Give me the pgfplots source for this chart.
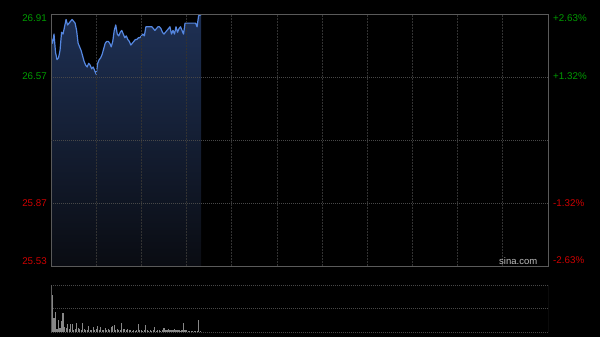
\documentclass[border=0pt]{standalone}
\usepackage{pgfplots}
\pgfplotsset{compat=1.18}
\usepackage{pgfplotstable}
\usepackage{fontspec}
\setmainfont{Liberation Sans}
\definecolor{upg}{RGB}{0,155,0}
\definecolor{dnr}{RGB}{205,0,0}
\definecolor{frm}{RGB}{90,90,90}
\definecolor{grd}{RGB}{50,50,50}
\definecolor{hgrd}{RGB}{72,72,72}
\definecolor{mgrd}{RGB}{110,110,110}
\definecolor{pline}{RGB}{85,135,225}
\definecolor{ftop}{RGB}{30,48,84}
\definecolor{fbot}{RGB}{10,12,18}
\definecolor{vbar}{RGB}{135,135,135}
\definecolor{sina}{RGB}{190,190,190}
\newcommand\lab[2]{\raisebox{#1}[0pt][0pt]{#2}}
\pgfplotstableread{
m p
0 26.78
1 26.75
2 26.80
3 26.70
4 26.66
5 26.67
6 26.71
7 26.81
8 26.80
9 26.84
10 26.88
11 26.85
12 26.86
13 26.87
14 26.88
15 26.87
16 26.86
17 26.82
18 26.75
19 26.73
20 26.71
21 26.68
22 26.65
23 26.63
24 26.62
25 26.64
26 26.63
27 26.61
28 26.62
29 26.60
30 26.58
31 26.64
32 26.66
33 26.67
34 26.69
35 26.72
36 26.75
37 26.76
38 26.76
39 26.75
40 26.73
41 26.76
42 26.82
43 26.85
44 26.80
45 26.79
46 26.81
47 26.82
48 26.80
49 26.78
50 26.79
51 26.77
52 26.76
53 26.74
54 26.75
55 26.76
56 26.77
57 26.77
58 26.78
59 26.78
60 26.79
61 26.80
62 26.79
63 26.84
64 26.84
65 26.84
66 26.84
67 26.84
68 26.83
69 26.82
70 26.83
71 26.84
72 26.84
73 26.83
74 26.81
75 26.80
76 26.81
77 26.82
78 26.83
79 26.84
80 26.80
81 26.82
82 26.80
83 26.84
84 26.81
85 26.83
86 26.84
87 26.82
88 26.80
89 26.86
90 26.86
91 26.86
92 26.86
93 26.86
94 26.86
95 26.86
96 26.86
97 26.84
98 26.90
99 26.905
99.6 26.905
}\price
\pgfplotstableread{
m v
0 47
1 37
2 14
3 20
4 3
5 12
6 4
7 11
8 19
9 5
10 4
11 8
12 3
13 8
14 8
15 2
16 3
17 9
18 4
19 3
20 2
21 9
22 3
23 2
24 2
25 6
26 2
27 2
28 5
29 2
30 3
31 6
32 2
33 5
34 2
35 2
36 4
37 2
38 3
39 2
40 5
41 6
42 7
43 2
44 3
45 2
46 2
47 9
48 3
49 3
50 2
51 3
52 2
53 2
54 1
55 1.5
56 1
57 2
58 8
59 1.5
60 2
61 1
62 1.5
63 7
64 1.5
65 1
66 1.5
67 1
68 1.5
69 5
70 1
71 1.5
72 1.5
73 1
74 1.5
75 4
76 2
77 2
78 3
79 1.5
80 2
81 1.5
82 3
83 1.5
84 2
85 2
86 1
87 1.5
88 9
89 1.5
90 1.5
91 1
92 1
93 1
94 1
95 1
96 1
97 1
98 12
99 1
}\vol
\begin{document}
\begin{tikzpicture}[x=1pt,y=1pt]
\fill[black] (0,0) rectangle (600,337);
\useasboundingbox (0,0) rectangle (600,337);
% main price axis
\begin{axis}[
  at={(51pt,71pt)}, anchor=south west,
  width=497pt, height=252pt, scale only axis,
  xmin=0, xmax=330, ymin=25.53, ymax=26.91,
  axis on top,
  axis line style={frm, line width=0.8pt},
  major tick length=0pt,
  xtick={30,60,...,300}, xticklabels={},
  xmajorgrids, ymajorgrids,
  x grid style={grd, line width=0.8pt, dash pattern=on 2pt off 1pt},
  y grid style={hgrd, line width=0.6pt, dash pattern=on 1pt off 1pt},
  ytick={25.53,25.875,26.565,26.91},
  yticklabels={\lab{1pt}{\textcolor{dnr}{25.53}},\lab{-4pt}{\textcolor{dnr}{25.87}},\lab{-3pt}{\textcolor{upg}{26.57}},\lab{-8pt}{\textcolor{upg}{26.91}}},
  yticklabel style={anchor=east, inner sep=0pt, xshift=-4pt, font=\fontsize{9.8}{10}\selectfont},
  extra y ticks={26.22}, extra y tick labels={},
  extra y tick style={grid style={mgrd, line width=0.7pt, dash pattern=on 3pt off 1pt on 1pt off 1pt}},
]
\addplot[draw=none, top color=ftop, bottom color=fbot] table[x=m,y=p]{\price} -- (axis cs:99.6,25.53) -- (axis cs:0,25.53) -- cycle;
\addplot[pline, line width=1.2pt, line join=round] table[x=m,y=p]{\price};
\end{axis}
% right labels
\begin{axis}[
  at={(51pt,71pt)}, anchor=south west,
  width=497pt, height=252pt, scale only axis,
  xmin=0, xmax=330, ymin=25.53, ymax=26.91,
  axis y line*=right, axis x line=none,
  axis line style={draw=none},
  major tick length=0pt,
  ytick={25.53,25.875,26.565,26.91},
  yticklabels={\lab{2pt}{\textcolor{dnr}{-2.63\%}},\lab{-4pt}{\textcolor{dnr}{-1.32\%}},\lab{-3pt}{\textcolor{upg}{+1.32\%}},\lab{-8pt}{\textcolor{upg}{+2.63\%}}},
  yticklabel style={anchor=west, inner sep=0pt, xshift=5pt, font=\fontsize{9.8}{10}\selectfont},
]
\end{axis}
% volume axis
\begin{axis}[
  at={(51pt,5pt)}, anchor=south west,
  width=497pt, height=47pt, scale only axis,
  xmin=0, xmax=330, ymin=0, ymax=47,
  axis line style={draw=none},
  major tick length=0pt,
  xtick=\empty,
  ytick={0,23.5,47}, yticklabels={},
  ymajorgrids,
  y grid style={hgrd, line width=0.8pt, dash pattern=on 1pt off 1pt},
]
\addplot[ycomb, vbar, line width=1.1pt] table[x=m,y=v]{\vol};
\draw[frm, line width=0.8pt] (rel axis cs:0,0) -- (rel axis cs:0,1);
\draw[frm, line width=0.8pt] (rel axis cs:1,0) -- (rel axis cs:1,1);
\end{axis}
\node[anchor=base west, inner sep=0pt, text=sina, font=\fontsize{9.5}{10}\selectfont] at (499,72) {sina.com};
\end{tikzpicture}
\end{document}
